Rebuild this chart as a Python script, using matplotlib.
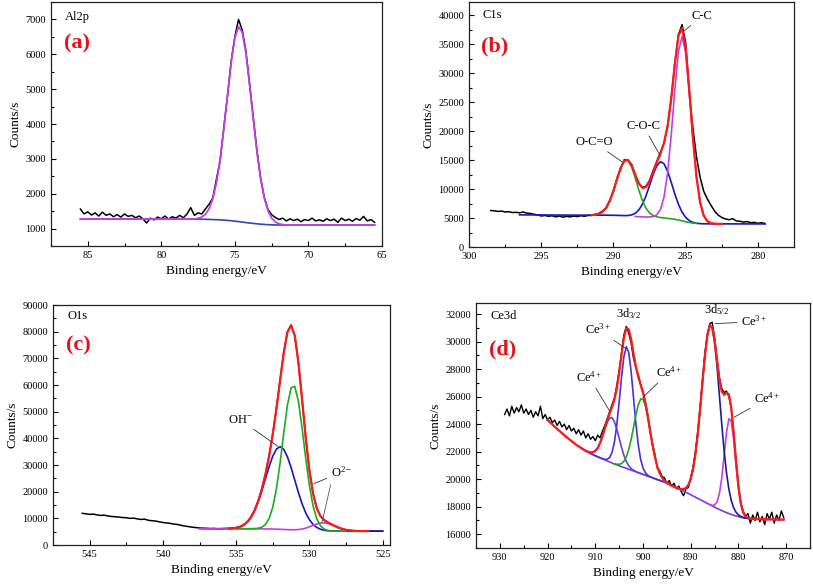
import numpy as np
import matplotlib
matplotlib.use("Agg")
import matplotlib.pyplot as plt
from matplotlib.ticker import MultipleLocator

plt.rcParams['font.family'] = ['Liberation Serif', 'DejaVu Serif']
plt.rcParams['mathtext.fontset'] = 'custom'
plt.rcParams['mathtext.rm'] = 'Liberation Serif'
plt.rcParams['mathtext.it'] = 'Liberation Serif:italic'


def be_grid(hi, lo, step):
    # binding energy axis, high to low
    n = int(round((hi - lo) / step)) + 1
    return np.round(hi - step * np.arange(n), 2)


def put(grid, start, vals):
    out = np.zeros(len(grid))
    i = int(np.argmin(np.abs(grid - start)))
    out[i:i + len(vals)] = vals
    return out


def span(grid, hi, lo):
    return (grid <= hi + 1e-6) & (grid >= lo - 1e-6)


# ---------------- (a) Al2p ----------------
al_be = be_grid(85.5, 65.5, 0.25)
al_raw = [1560,
          1420, 1480, 1390, 1450, 1360, 1470, 1380, 1420, 1340, 1400, 1330, 1420,
          1350, 1380, 1310, 1360, 1280, 1160, 1300, 1250, 1330, 1280, 1360, 1270,
          1340, 1300, 1380, 1310, 1420, 1600, 1380, 1450, 1420, 1560, 1700, 1880,
          2420, 2950, 3900, 4800, 5800, 6500, 7000, 6700, 6100, 5150, 4200, 3250,
          2450, 1900, 1550, 1400, 1320, 1260, 1300, 1220, 1280, 1230, 1270, 1200,
          1260, 1230, 1300, 1220, 1250, 1210, 1280, 1230, 1270, 1180, 1300, 1230,
          1270, 1210, 1290, 1240, 1350, 1220, 1260, 1180]
al_bg = [1280,
         1280, 1280, 1279, 1279, 1279, 1278, 1278, 1278, 1277, 1277, 1277, 1276,
         1276, 1276, 1275, 1275, 1275, 1274, 1274, 1274, 1273, 1273, 1273, 1273,
         1272, 1272, 1272, 1272, 1272, 1272, 1271, 1270, 1268, 1266, 1263, 1260,
         1255, 1250, 1243, 1235, 1225, 1213, 1200, 1187, 1173, 1160, 1148, 1137,
         1127, 1119, 1112, 1107, 1104, 1102, 1101, 1100] + [1100] * 24
al_peak_start = 77.5
al_peak = [25, 62, 144, 306, 595, 1062, 1739, 2611, 3596, 4542, 5262, 5590,
           5447, 4868, 3990, 2999, 2067, 1307, 758, 403, 197, 88, 36, 14]

# ---------------- (b) C1s ----------------
c_be = be_grid(298.5, 279.5, 0.25)
c_raw = [6300, 6250, 6150, 6200, 6050, 6100, 5950, 6000, 5900, 6050, 5850, 5800,
         5650, 5550, 5350, 5450, 5300, 5400, 5200, 5350, 5150, 5300, 5200, 5350,
         5250, 5400, 5300, 5450,
         5450, 5650, 5800, 6250, 6700, 8100, 9600, 11900, 13500, 15100,
         15000, 14300, 12400, 11000, 10300, 10500, 11500, 13200, 14800, 16300,
         17900, 20800, 25600, 31800, 36700, 38400, 35200, 26500, 20500, 15500,
         12000, 9600, 8300, 7200, 6200,
         5500, 5100, 4850, 4700, 4900, 4500, 4450, 4300, 4400, 4200, 4250, 4100,
         4200, 4050]
c_bg = [5560] * 8 + \
       [5550, 5547, 5544, 5541, 5538, 5535, 5532, 5529, 5526, 5523, 5520, 5517,
        5514, 5511, 5508, 5505, 5502] + [5500] * 3 + \
       [5500, 5500, 5500, 5498, 5496, 5490, 5478, 5459, 5431, 5394,
        5351, 5307, 5267, 5234, 5208, 5186, 5163, 5134, 5099, 5056,
        5006, 4947, 4875, 4781, 4660, 4516, 4366, 4231, 4128, 4061,
        4025, 4009, 4003, 4001, 4000] + \
       [4000, 3998, 3997, 3996, 3995, 3994, 3993, 3992, 3991, 3990, 3989, 3988,
        3987, 3986]
c_ocO = [27, 87, 243, 603, 1313, 2516, 4245, 6303, 8238, 9480, 9602, 8560, 6718,
         4641, 2822, 1510, 712, 295, 108, 35, 10] + [0] * 9          # from 291.5
c_coc = [2, 9, 30, 88, 231, 544, 1146, 2159, 3640, 5491, 7413, 8954, 9679, 9361,
         8102, 6275, 4349, 2697, 1497, 743, 330, 131, 47, 15]         # from 289.75
c_cc = [0, 0, 0, 5, 28, 122, 453, 1396, 3631, 7932, 14558, 22471, 29158, 31800,
        29158, 22471, 14558, 7932, 3631, 1396, 453, 122, 28]          # from 288.5

# ---------------- (c) O1s ----------------
o_be = be_grid(545.5, 525.0, 0.25)
o_raw = [11900, 11700, 11500, 11600, 11300, 11100, 11200, 10900, 10700, 10600,
         10500, 10300, 10250, 10000, 10100, 9800, 9600, 9700, 9300, 9100,
         9000, 8700, 8450, 8300, 8100, 7850, 7700, 7400, 7100, 6900, 6700,
         6550, 6400, 6300, 6250, 6150, 6200, 6100, 6150, 6200, 6250, 6350, 6500,
         6900, 7500, 8600, 10400, 12900, 16500, 21000, 26700, 33500, 41700,
         51300, 61900, 72200, 80000, 82500, 78600, 68500, 54700, 40300, 28100,
         19300, 13700, 10800, 9300, 8400, 7700, 7000, 6400, 6000, 5700,
         5500, 5400, 5300, 5250,
         5250, 5200, 5250, 5180, 5220, 5200]
o_fit_be = be_grid(537.5, 525.0, 0.25)
o_bg = [6150, 6140, 6130, 6120, 6110, 6105, 6100,
        6100, 6100, 6100, 6100, 6099, 6098,
        6097, 6094, 6088, 6080, 6067, 6049, 6024, 5990, 5946, 5890,
        5821, 5739, 5648, 5553, 5463, 5385, 5325, 5282, 5254, 5236,
        5226, 5219, 5213, 5209, 5206, 5204, 5202, 5201, 5201, 5200,
        5200, 5200,
        5198, 5195, 5192, 5189, 5186, 5183]
o_lattice = [0, 0, 0, 0, 16, 62, 210, 632, 1675, 3944, 8231, 15222, 24950, 36259,
             46706, 53330, 53976, 48424, 38510, 27146, 16966, 9396, 4616, 2006,
             774, 265, 80, 22, 0, 0, 0]                                # from 535.0
o_oh = [10, 27, 68, 158, 344, 707, 1362, 2467, 4195, 6705, 10066, 14192, 18802,
        23399, 27358, 30045, 31000, 30045, 27358, 23399, 18802, 14192, 10066,
        6705, 4195, 2467, 1362, 707, 344, 158, 68, 27, 10]            # from 536.0
o_o2 = [28, 71, 159, 324, 600, 1007, 1532, 2114, 2647, 3005, 3094, 2890, 2447,
        1880, 1310, 828, 474, 247, 116, 50, 19]                        # from 531.5

# ---------------- (d) Ce3d ----------------
ce_be = be_grid(929.0, 870.5, 0.5)
ce_raw = [24700, 25100, 24600, 25300, 24800, 25200, 24900, 25400, 24800, 25100,
          24700, 25000, 24500, 24900, 24600, 25300, 24400, 24700, 24300, 24500,
          24100, 24300, 23900, 24200, 23800, 24000, 23600, 23900, 23500, 23700,
          23300, 23600, 23200, 23500, 23000, 23300, 22900, 23100, 22800, 23200,
          23000, 23500, 23900, 24400, 24900, 25400, 25900, 26800, 27900, 29200,
          30500, 31100, 30600, 29900, 28800, 28100, 27600, 26900, 26400, 25600,
          24700, 23400, 22600, 21800, 20800, 20600, 20200, 20100, 19700, 19900,
          19500, 19700, 19300, 19500, 19100, 18800, 19300, 19400, 20100, 20900,
          22000, 23500, 25300, 27300, 29200, 30500, 31300, 31400, 30300, 28800,
          27400, 26600, 26300, 26400, 26000, 25100, 23300, 21400, 19600, 18300,
          17700, 17300, 17500, 16800, 17400, 17000, 17600, 16900, 17300, 16700,
          17500, 17100, 17600, 16800, 17400, 17000, 17700, 17200]
ce_fit_be = be_grid(920.0, 870.5, 0.5)
ce_bg = [24300, 24140, 23980, 23810, 23650, 23500, 23350, 23200, 23050, 22910,
         22770, 22640, 22500, 22390, 22270, 22160, 22050, 21960, 21870, 21790,
         21700, 21630, 21550, 21480, 21400, 21320, 21250, 21180, 21100, 21040,
         20980, 20910, 20850, 20790, 20720, 20660, 20600, 20540, 20470, 20410,
         20350, 20290, 20220, 20160, 20100, 20040, 19970, 19910, 19850,
         19770, 19690, 19610, 19530, 19450, 19370, 19290, 19210, 19130, 19050,
         18960, 18870, 18780, 18690, 18600, 18510, 18420, 18330, 18240, 18150,
         18060, 17970, 17880, 17800, 17720, 17640, 17570, 17500, 17440, 17380,
         17330, 17280, 17240, 17200, 17170, 17150, 17130, 17115, 17105, 17100,
         17095, 17090, 17085, 17080, 17078, 17075, 17072, 17070, 17067, 17064,
         17060]
ce_p1 = [1, 4, 11, 30, 75, 169, 345, 638, 1071, 1631, 2250, 2817, 3198, 3294,
         3076, 2605, 2001, 1395, 881, 505, 263, 124, 53, 20, 7, 2]      # from 913.0
ce_p2 = [3, 12, 40, 122, 325, 762, 1578, 2874, 4606, 6499, 8074, 8828, 8496,
         7198, 5368, 3524, 2036, 1036, 464, 183, 63, 19, 5]             # from 909.0
ce_p3 = [16, 43, 102, 224, 452, 836, 1417, 2202, 3140, 4106, 4924, 5415, 5462,
         5053, 4287, 3336, 2380, 1558, 935, 515, 260, 120, 51, 20, 7]   # from 906.0
ce_p4 = [1, 4, 10, 26, 64, 146, 310, 615, 1138, 1968, 3173, 4772, 6701, 8778,
         10732, 12241, 13028, 12937, 11989, 10366, 8363, 6296, 4423, 2899,
         1773, 1011, 538, 267, 124, 54, 22, 8, 3]                        # from 894.0
ce_p5 = [9, 40, 146, 445, 1123, 2347, 4061, 5816, 6895, 6766, 5495, 3695, 2057,
         947, 361, 114, 30, 6]                                           # from 886.0

assert len(al_raw) == len(al_be) == len(al_bg)
assert len(c_raw) == len(c_be) == len(c_bg)
assert len(o_raw) == len(o_be) and len(o_bg) == len(o_fit_be)
assert len(ce_raw) == len(ce_be) and len(ce_bg) == len(ce_fit_be)

RED = '#ff1a1a'
GREEN = '#1faa1f'
BLUE = '#1616c8'
NAVY = '#1c1c9a'
PURPLE = '#c43ee8'
VIOLET = '#6a3fd8'
LABEL_RED = '#e8101a'


def style(ax, xlim, ylim, xmaj, ymaj):
    ax.set_xlim(*xlim)
    ax.set_ylim(*ylim)
    ax.xaxis.set_major_locator(MultipleLocator(xmaj))
    ax.xaxis.set_minor_locator(MultipleLocator(xmaj / 2))
    ax.yaxis.set_major_locator(MultipleLocator(ymaj))
    ax.yaxis.set_minor_locator(MultipleLocator(ymaj / 2))
    ax.tick_params(which='both', direction='in', labelsize=7.5, width=0.8)
    ax.tick_params(which='major', length=3.5)
    ax.tick_params(which='minor', length=2)
    for s in ax.spines.values():
        s.set_linewidth(0.9)
        s.set_color('#222222')
    ax.set_xlabel('Binding energy/eV', fontsize=9.5, labelpad=4)
    ax.set_ylabel('Counts/s', fontsize=9.5, labelpad=3)


def tags(ax, name, letter, y_name, y_letter):
    ax.text(0.042, y_name, name, transform=ax.transAxes, fontsize=9, va='center')
    ax.text(0.038, y_letter, letter, transform=ax.transAxes, fontsize=16,
            fontweight='bold', color=LABEL_RED, va='center')


def lead(ax, text, xy, xytext, fs=9):
    ax.annotate(text, xy=xy, xytext=xytext, fontsize=fs, ha='center', va='center',
                arrowprops=dict(arrowstyle='-', color='#333333', lw=0.6,
                                shrinkA=1, shrinkB=0))


fig = plt.figure(figsize=(8.13, 5.88), dpi=100)
ax_a = fig.add_axes([0.0627, 0.5816, 0.4071, 0.415])
ax_b = fig.add_axes([0.5769, 0.5799, 0.3998, 0.4167])
ax_c = fig.add_axes([0.0652, 0.0731, 0.4145, 0.408])
ax_d = fig.add_axes([0.5855, 0.068, 0.4108, 0.4167])

# (a)
al_bg_arr = np.array(al_bg, float)
al_fit = al_bg_arr + put(al_be, al_peak_start, al_peak)
ax_a.plot(al_be, al_raw, color='k', lw=1.1)
ax_a.plot(al_be, al_bg_arr, color='#3048b0', lw=1.2)
ax_a.plot(al_be, al_fit, color=PURPLE, lw=1.3)
style(ax_a, (87.5, 65), (500, 7500), 5, 1000)
tags(ax_a, 'Al2p', '(a)', 0.94, 0.83)

# (b)
c_bg_arr = np.array(c_bg, float)
g = put(c_be, 291.5, c_ocO)
b = put(c_be, 289.75, c_coc)
p = put(c_be, 288.5, c_cc)
env = c_bg_arr + g + b + p
ax_b.plot(c_be, c_raw, color='k', lw=1.1)
m = span(c_be, 296.5, 279.5)
ax_b.plot(c_be[m], (c_bg_arr + b)[m], color=BLUE, lw=1.2)
m = span(c_be, 291.5, 284.25)
ax_b.plot(c_be[m], (c_bg_arr + g)[m], color=GREEN, lw=1.2)
m = span(c_be, 288.5, 283.0)
ax_b.plot(c_be[m], (c_bg_arr + p)[m], color=PURPLE, lw=1.2)
m = span(c_be, 291.5, 282.5)
ax_b.plot(c_be[m], env[m], color=RED, lw=1.6)
style(ax_b, (300, 277.5), (0, 42300), 5, 5000)
tags(ax_b, 'C1s', '(b)', 0.947, 0.82)
lead(ax_b, 'C-C', (285.1, 37300), (283.86, 39900))
lead(ax_b, 'C-O-C', (286.75, 15700), (287.93, 20900))
lead(ax_b, 'O-C=O', (289.4, 14700), (291.36, 18100))

# (c)
o_bg_arr = np.array(o_bg, float)
gl = put(o_fit_be, 535.0, o_lattice)
oh = put(o_fit_be, 536.0, o_oh)
o2 = put(o_fit_be, 531.5, o_o2)
env = o_bg_arr + gl + oh + o2
ax_c.plot(o_be, o_raw, color='k', lw=1.1)
ax_c.plot(o_fit_be, o_bg_arr + oh, color=BLUE, lw=1.2)
m = span(o_fit_be, 537.5, 526.5)
ax_c.plot(o_fit_be[m], (o_bg_arr + o2)[m], color=PURPLE, lw=1.2)
m = span(o_fit_be, 535.0, 527.5)
ax_c.plot(o_fit_be[m], (o_bg_arr + gl)[m], color=GREEN, lw=1.2)
m = span(o_fit_be, 535.5, 526.0)
ax_c.plot(o_fit_be[m], env[m], color=RED, lw=1.6)
style(ax_c, (547.5, 524.5), (0, 90000), 5, 10000)
tags(ax_c, 'O1s', '(c)', 0.954, 0.833)
lead(ax_c, 'OH$^{-}$', (532.15, 37000), (534.73, 47000))
lead(ax_c, 'O$^{2-}$', (529.7, 23000), (527.82, 27300))
ax_c.annotate('', xy=(529.15, 8300), xytext=(528.55, 22600),
              arrowprops=dict(arrowstyle='-', color='#555555', lw=0.6,
                              shrinkA=0, shrinkB=0))

# (d)
ce_bg_arr = np.array(ce_bg, float)
p1 = put(ce_fit_be, 913.0, ce_p1)
p2 = put(ce_fit_be, 909.0, ce_p2)
p3 = put(ce_fit_be, 906.0, ce_p3)
p4 = put(ce_fit_be, 894.0, ce_p4)
p5 = put(ce_fit_be, 886.0, ce_p5)
env = ce_bg_arr + p1 + p2 + p3 + p4 + p5
ax_d.plot(ce_be, ce_raw, color='k', lw=1.0)
ax_d.plot(ce_fit_be, ce_bg_arr, color='#7440e0', lw=1.2)
for comp, hi, lo, col in [(p1, 913, 899, VIOLET), (p2, 912, 896, '#4a2ee0'),
                          (p3, 906, 893, GREEN), (p5, 887, 874, PURPLE),
                          (p4, 893, 876, NAVY)]:
    m = span(ce_fit_be, hi, lo)
    ax_d.plot(ce_fit_be[m], (ce_bg_arr + comp)[m], color=col, lw=1.2)
m = span(ce_fit_be, 920, 870.5)
ax_d.plot(ce_fit_be[m], env[m], color=RED, lw=1.6)
style(ax_d, (935, 865), (15000, 32800), 10, 2000)
tags(ax_d, 'Ce3d', '(d)', 0.947, 0.81)
ax_d.text(903.1, 32000, '3d$_{3/2}$', fontsize=9, ha='center', va='center')
ax_d.text(884.6, 32340, '3d$_{5/2}$', fontsize=9, ha='center', va='center')
lead(ax_d, 'Ce$^{3+}$', (884.9, 31300), (876.7, 31440))
lead(ax_d, 'Ce$^{3+}$', (903.6, 29500), (909.5, 30880))
lead(ax_d, 'Ce$^{4+}$', (906.9, 24900), (911.3, 27430))
lead(ax_d, 'Ce$^{4+}$', (900.0, 25950), (894.5, 27790))
lead(ax_d, 'Ce$^{4+}$', (880.9, 24500), (874.0, 25850))

fig.savefig('out.png', dpi=100)
